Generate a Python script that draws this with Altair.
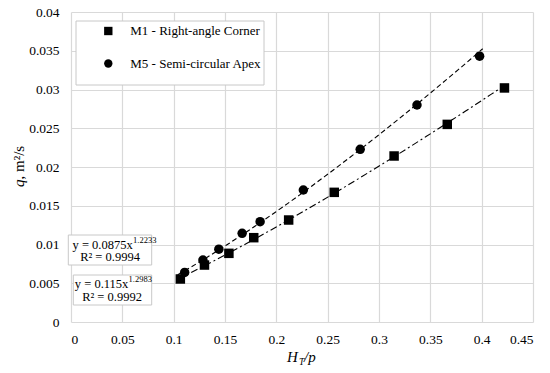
import altair as alt
import pandas as pd

# Data
m1_x = [0.1065, 0.130, 0.1538, 0.178, 0.212, 0.2564, 0.3147, 0.3665, 0.4222]
m1_y = [0.00555, 0.00735, 0.00886, 0.01088, 0.01316, 0.01673, 0.02142, 0.0255, 0.0302]
m5_x = [0.1107, 0.1285, 0.144, 0.1667, 0.1842, 0.2263, 0.2817, 0.3370, 0.398]
m5_y = [0.0064, 0.0080, 0.0094, 0.01144, 0.01294, 0.01703, 0.02228, 0.0280, 0.0343]
series_names = ["M1 - Right-angle Corner", "M5 - Semi-circular Apex"]
x_ticks = [0, 0.05, 0.1, 0.15, 0.2, 0.25, 0.3, 0.35, 0.4, 0.45]
y_ticks = [0, 0.005, 0.01, 0.015, 0.02, 0.025, 0.03, 0.035, 0.04]
eq_m5 = ["y = 0.0875x", "1.2233", "R² = 0.9994"]
eq_m1 = ["y = 0.115x", "1.2983", "R² = 0.9992"]

df = pd.DataFrame({
    "x": m1_x + m5_x,
    "y": m1_y + m5_y,
    "series": [series_names[0]] * len(m1_x) + [series_names[1]] * len(m5_x),
})

FONT = "Liberation Serif"
W, H = 462, 310

base = alt.Chart(df)
one = alt.Chart(pd.DataFrame({"k": [0]}))

xenc = alt.X("x:Q", scale=alt.Scale(domain=[0, 0.45], nice=False),
             axis=alt.Axis(values=x_ticks, format="~g", title=None, labelOverlap=False,
                           labelFont=FONT, labelFontSize=13.5, labelColor="black",
                           labelPadding=10))
yenc = alt.Y("y:Q", scale=alt.Scale(domain=[0, 0.04], nice=False),
             axis=alt.Axis(values=y_ticks, format="~g", title=None, labelOverlap=False,
                           labelFont=FONT, labelFontSize=13.5, labelColor="black",
                           labelPadding=12))

points = base.mark_point(filled=True, opacity=1, color="black", size=90).encode(
    x=xenc, y=yenc,
    shape=alt.Shape("series:N",
                    scale=alt.Scale(domain=series_names, range=["square", "circle"]),
                    legend=alt.Legend(title=None, orient="none", legendX=30.8, legendY=12.5,
                                      padding=0, labelFont=FONT, labelFontSize=13,
                                      labelColor="black", labelOffset=15.5, rowPadding=18.5,
                                      symbolSize=70, symbolFillColor="black",
                                      symbolStrokeColor="black", symbolStrokeWidth=0)),
)

fit_m5 = base.transform_filter(alt.datum.series == series_names[1]).transform_regression(
    "x", "y", method="pow", extent=[0.104, 0.401]
).mark_line(color="black", strokeWidth=1.1, strokeDash=[5, 3]).encode(x=xenc, y=yenc)

fit_m1 = base.transform_filter(alt.datum.series == series_names[0]).transform_regression(
    "x", "y", method="pow", extent=[0.104, 0.4222]
).mark_line(color="black", strokeWidth=1.1, strokeDash=[7, 3, 2, 3]).encode(x=xenc, y=yenc)

def box(x1, x2, y1, y2):
    return one.mark_rect(fill="white", stroke="#c8c8c8", strokeWidth=1).encode(
        x=alt.value(x1), x2=alt.value(x2), y=alt.value(y1), y2=alt.value(y2))

legend_box = box(5, 193, 9, 73)
box1 = box(-2.7, 80.7, 223, 253)
box2 = box(2.3, 80.7, 263, 293)

def txt(s, x, y, size=12.5, align="left", style="normal", baseline="middle", angle=0):
    return one.mark_text(text=s, font=FONT, fontSize=size, align=align, baseline=baseline,
                         fontStyle=style, color="black", angle=angle).encode(
        x=alt.value(x), y=alt.value(y))

ann = [
    txt(eq_m5[0], 61.7, 233, align="right"),
    txt(eq_m5[1], 62.0, 228, size=8.5),
    txt(eq_m5[2], 39.0, 244.7, align="center"),
    txt(eq_m1[0], 57.3, 272, align="right"),
    txt(eq_m1[1], 57.6, 267, size=8.5),
    txt(eq_m1[2], 41.0, 284.7, align="center"),
    # x title H_T/p
    txt("H", 216, 350, size=15, style="italic", baseline="alphabetic"),
    txt("T", 228, 353, size=9.5, style="italic", baseline="alphabetic"),
    txt("/p", 233, 350, size=15, style="italic", baseline="alphabetic"),
    # y title q, m²/s
    txt("q", -47, 175, size=15, style="italic", baseline="alphabetic", angle=270),
    txt(", m²/s", -47, 167.5, size=15, baseline="alphabetic", angle=270),
]

chart = alt.layer(legend_box, box1, box2, fit_m5, fit_m1, points, *ann).properties(
    width=W, height=H,
    autosize=alt.AutoSizeParams(type="none"),
    padding={"left": 63, "top": 4, "right": 9, "bottom": 43},
).configure_view(stroke=None).configure_axis(
    domain=False, ticks=False, grid=True, gridColor="#d9d9d9", gridWidth=1.2,
    labelFont=FONT, labelFontSize=13.5, labelColor="black",
)

chart.save("out.html", embed_options={"renderer": "svg", "actions": False})
